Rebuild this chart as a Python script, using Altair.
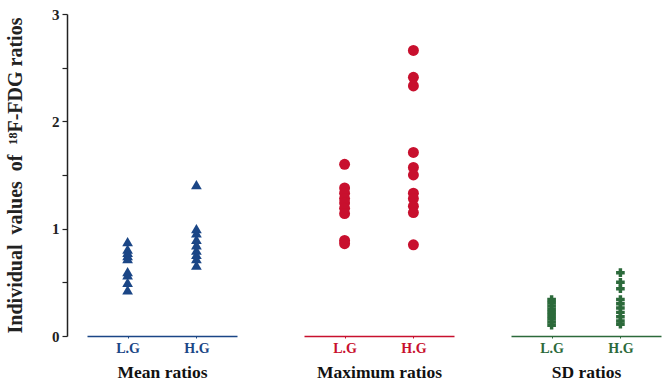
import altair as alt
import pandas as pd

groups = ["Mean ratios", "Maximum ratios", "SD ratios"]
categories = ["L.G", "H.G"]
colors = ["#1b4686", "#c8102e", "#2c6a3b"]
shapes = ["triangle-up", "circle", "cross"]
sizes = [115, 120, 75]

mean_lg = [0.88, 0.81, 0.78, 0.75, 0.72, 0.60, 0.57, 0.50, 0.43]
mean_hg = [1.41, 1.00, 0.96, 0.90, 0.85, 0.80, 0.76, 0.72, 0.66]
max_lg = [1.60, 1.38, 1.33, 1.28, 1.24, 1.19, 1.14, 0.89, 0.86]
max_hg = [2.66, 2.41, 2.33, 1.71, 1.57, 1.50, 1.33, 1.28, 1.21, 1.15, 0.85]
sd_lg = [0.34, 0.31, 0.28, 0.25, 0.22, 0.19, 0.16, 0.13, 0.10]
sd_hg = [0.59, 0.50, 0.44, 0.34, 0.30, 0.26, 0.22, 0.18, 0.14, 0.11]

series = [(mean_lg, mean_hg), (max_lg, max_hg), (sd_lg, sd_hg)]

serif = "Liberation Serif"
sp = "\u00a0\u00a0"
panels = []
for i, g in enumerate(groups):
    rows = []
    for cat, vals in zip(categories, series[i]):
        for v in vals:
            rows.append({"group": g, "cat": cat, "value": v})
    df = pd.DataFrame(rows)
    if i == 0:
        yaxis = alt.Axis(
            values=[0, 0.5, 1, 1.5, 2, 2.5, 3],
            labelExpr="datum.value % 1 === 0 ? format(datum.value, 'd') : ''",
            grid=False,
            domainColor="#222222",
            domainWidth=1.5,
            tickColor="#222222",
            tickWidth=1.2,
            tickSize=5,
            labelFont=serif,
            labelFontSize=15,
            labelFontWeight="bold",
            labelColor="#222222",
            labelPadding=3,
            offset=20,
            title=f"Individual{sp}values{sp}of{sp}¹⁸F-FDG ratios",
            titleFont=serif,
            titleFontSize=20,
            titleFontWeight="bold",
            titleColor="#222222",
            titlePadding=26,
        )
    else:
        yaxis = None
    xaxis = alt.Axis(
        title=g,
        titleFont=serif,
        titleFontSize=17.5,
        titleFontWeight="bold",
        titleColor="#111111",
        titlePadding=8,
        labelAngle=0,
        labelFont=serif,
        labelFontSize=14,
        labelFontWeight=600,
        labelColor=colors[i],
        labelPadding=3,
        domainColor=colors[i],
        domainWidth=1.5,
        tickColor=colors[i],
        tickSize=2,
        grid=False,
    )
    p = (
        alt.Chart(df)
        .mark_point(shape=shapes[i], filled=True, opacity=1, size=sizes[i], color=colors[i])
        .encode(
            x=alt.X("cat:N", sort=categories, axis=xaxis,
                    scale=alt.Scale(type="point", padding=0.59)),
            y=alt.Y("value:Q", axis=yaxis, scale=alt.Scale(domain=[0, 3], nice=False)),
        )
        .properties(width=150, height=322)
    )
    panels.append(p)

chart = (
    alt.hconcat(alt.hconcat(panels[0], panels[1], spacing=67), panels[2], spacing=57)
    .properties(padding={"left": 5, "top": 7, "right": 5, "bottom": 0})
    .configure_view(stroke=None)
)

chart.save("out.html", embed_options={"renderer": "svg", "actions": False})
